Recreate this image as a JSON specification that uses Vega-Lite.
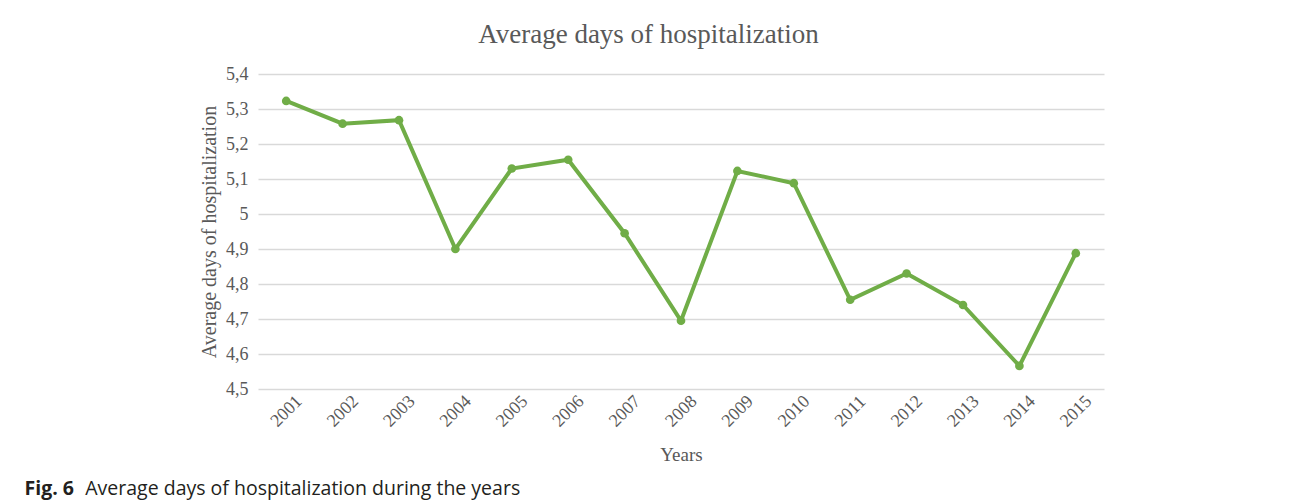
{
  "$schema": "https://vega.github.io/schema/vega-lite/v6.json",
  "width": 846,
  "height": 315,
  "autosize": {"type": "none"},
  "padding": {"left": 258, "top": 74, "right": 188, "bottom": 114},
  "background": "white",
  "title": {
    "text": "Fig. 6",
    "subtitle": "\u200b\u00a0\u00a0\u00a0\u00a0\u00a0\u00a0\u00a0\u00a0\u00a0\u00a0\u00a0 Average days of hospitalization during the years",
    "orient": "bottom",
    "anchor": "start",
    "frame": "bounds",
    "dx": -175,
    "offset": 16,
    "font": "Open Sans",
    "fontSize": 19.5,
    "fontWeight": "bold",
    "color": "#231f20",
    "subtitleFont": "Open Sans",
    "subtitleFontSize": 19.5,
    "subtitleFontWeight": "normal",
    "subtitleColor": "#231f20",
    "subtitlePadding": -19.5
  },
  "data": {
    "values": [
      {"year": "2001", "days": 5.323},
      {"year": "2002", "days": 5.258},
      {"year": "2003", "days": 5.268},
      {"year": "2004", "days": 4.900},
      {"year": "2005", "days": 5.130},
      {"year": "2006", "days": 5.155},
      {"year": "2007", "days": 4.945},
      {"year": "2008", "days": 4.695},
      {"year": "2009", "days": 5.123},
      {"year": "2010", "days": 5.088},
      {"year": "2011", "days": 4.755},
      {"year": "2012", "days": 4.830},
      {"year": "2013", "days": 4.740},
      {"year": "2014", "days": 4.566},
      {"year": "2015", "days": 4.888}
    ]
  },
  "resolve": {"axis": {"x": "independent"}},
  "layer": [
    {
      "mark": {"type": "line", "color": "#70AD47", "strokeWidth": 4, "strokeJoin": "miter"},
      "encoding": {
        "x": {
          "field": "year",
          "type": "ordinal",
          "scale": {"type": "point", "padding": 0.5},
          "axis": {
            "orient": "bottom",
            "title": "Years",
            "titleFont": "Liberation Serif",
            "titleFontSize": 19,
            "titleFontWeight": "normal",
            "titleColor": "#595959",
            "titlePadding": 15,
            "labelFont": "Liberation Serif",
            "labelFontSize": 18,
            "labelColor": "#595959",
            "labelAngle": -45,
            "labelAlign": "center",
            "labelBaseline": "middle",
            "labelPadding": 22,
            "labelOverlap": false,
            "ticks": false,
            "domain": false,
            "grid": false
          }
        },
        "y": {
          "field": "days",
          "type": "quantitative",
          "scale": {"domain": [4.5, 5.4], "nice": false, "zero": false},
          "axis": {
            "values": [4.5, 4.6, 4.7, 4.8, 4.9, 5.0, 5.1, 5.2, 5.3, 5.4],
            "tickCount": 12,
            "labelExpr": "replace(format(datum.value, '.1~f'), '.', ',')",
            "labelOverlap": false,
            "title": "Average days of hospitalization",
            "titleFont": "Liberation Serif",
            "titleFontSize": 20,
            "titleFontWeight": "normal",
            "titleColor": "#595959",
            "titlePadding": 6,
            "labelFont": "Liberation Serif",
            "labelFontSize": 18,
            "labelColor": "#595959",
            "labelPadding": 10,
            "ticks": false,
            "domain": false,
            "grid": true,
            "gridColor": "#D9D9D9",
            "gridWidth": 1.3
          }
        }
      }
    },
    {
      "mark": {"type": "point", "filled": true, "size": 75, "color": "#70AD47", "opacity": 1},
      "encoding": {
        "x": {
          "field": "year",
          "type": "ordinal",
          "axis": {
            "orient": "top",
            "title": "Average days of hospitalization",
            "titleFont": "Liberation Serif",
            "titleFontSize": 27,
            "titleFontWeight": "normal",
            "titleColor": "#595959",
            "titlePadding": 26,
            "titleX": 390,
            "labels": false,
            "ticks": false,
            "domain": false,
            "grid": false
          }
        },
        "y": {"field": "days", "type": "quantitative"}
      }
    }
  ],
  "config": {"view": {"stroke": null}}
}
